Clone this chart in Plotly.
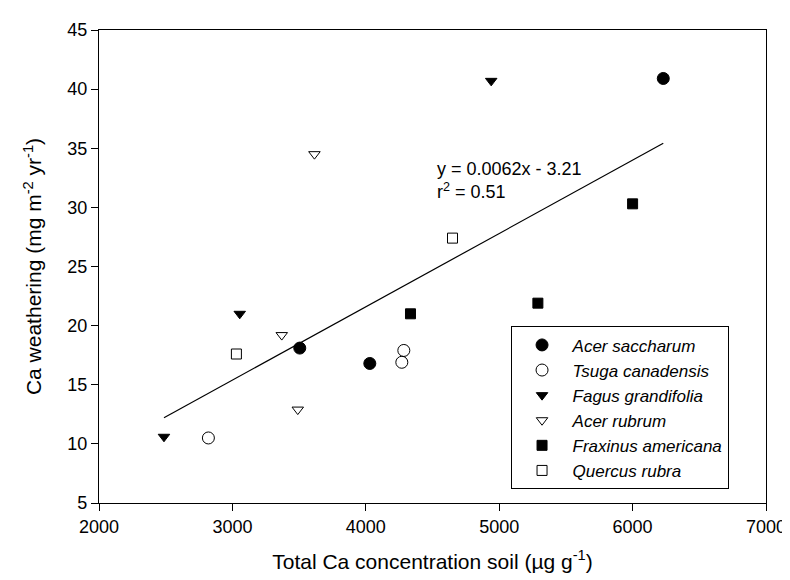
import plotly.graph_objects as go

# ---- data ----
species = ["Acer saccharum", "Tsuga canadensis", "Fagus grandifolia",
           "Acer rubrum", "Fraxinus americana", "Quercus rubra"]
acer_sacch_x = [3505, 4030, 6230]
acer_sacch_y = [18.1, 16.8, 40.9]
tsuga_x = [2820, 4285, 4270]
tsuga_y = [10.5, 17.9, 16.9]
fagus_x = [2487, 3055, 4940]
fagus_y = [10.6, 21.0, 40.7]
acer_rub_x = [3370, 3490, 3615]
acer_rub_y = [19.2, 12.9, 34.5]
fraxinus_x = [4335, 5290, 6000]
fraxinus_y = [21.0, 21.9, 30.3]
quercus_x = [3030, 4650]
quercus_y = [17.6, 27.4]

slope = 0.0062
intercept = -3.21
r_squared = 0.51
fit_x = [2487, 6230]
fit_y = [slope * v + intercept for v in fit_x]

x_ticks = [2000, 3000, 4000, 5000, 6000, 7000]
y_ticks = [5, 10, 15, 20, 25, 30, 35, 40, 45]

FONT = "Liberation Sans, Arial, Helvetica, sans-serif"

series = [
    (species[0], acer_sacch_x, acer_sacch_y, "circle", 12),
    (species[1], tsuga_x, tsuga_y, "circle-open", 12),
    (species[2], fagus_x, fagus_y, "triangle-down", 10),
    (species[3], acer_rub_x, acer_rub_y, "triangle-down-open", 10),
    (species[4], fraxinus_x, fraxinus_y, "square", 10),
    (species[5], quercus_x, quercus_y, "square-open", 10),
]

fig = go.Figure()
fig.add_trace(go.Scatter(x=fit_x, y=fit_y, mode="lines",
                         line=dict(color="black", width=1.2),
                         showlegend=False, hoverinfo="skip"))
for name, xs, ys, sym, sz in series:
    fig.add_trace(go.Scatter(
        x=xs, y=ys, mode="markers", name="<i>" + name + "</i>",
        marker=dict(symbol=sym, size=sz, color="black",
                    line=dict(color="black", width=1))))

fig.add_annotation(
    x=4515, y=32.3, xref="x", yref="y", xanchor="left", yanchor="middle",
    align="left", showarrow=False,
    text=f"y = {slope}x - {abs(intercept)}<br>r<sup>2</sup> = {r_squared}",
    font=dict(family=FONT, size=18, color="black"))

axis_common = dict(showline=True, linecolor="black", linewidth=1.3,
                   mirror=True, ticks="outside", ticklen=7, tickwidth=1.2,
                   tickcolor="black", showgrid=False, zeroline=False,
                   tickfont=dict(family=FONT, size=18, color="black"))

fig.update_xaxes(range=[2000, 7000], tickvals=x_ticks,
                 title=dict(text="Total Ca concentration soil (µg g<sup>-1</sup>)",
                            font=dict(family=FONT, size=21, color="black"),
                            standoff=18),
                 **axis_common)
fig.update_yaxes(range=[5, 45], tickvals=y_ticks,
                 title=dict(text="Ca weathering (mg m<sup>-2</sup> yr<sup>-1</sup>)",
                            font=dict(family=FONT, size=21, color="black"),
                            standoff=19),
                 **axis_common)

fig.update_layout(
    width=790, height=580,
    margin=dict(l=91, r=25, t=21, b=85),
    paper_bgcolor="white", plot_bgcolor="white",
    font=dict(family=FONT, color="black"),
    legend=dict(x=0.617, y=0.3734, xanchor="left", yanchor="top",
                bgcolor="white", bordercolor="black", borderwidth=1,
                font=dict(family=FONT, size=17, color="black"),
                itemwidth=51, tracegroupgap=0,
                entrywidth=196, entrywidthmode="pixels"),
)

fig.write_html("out.html")
